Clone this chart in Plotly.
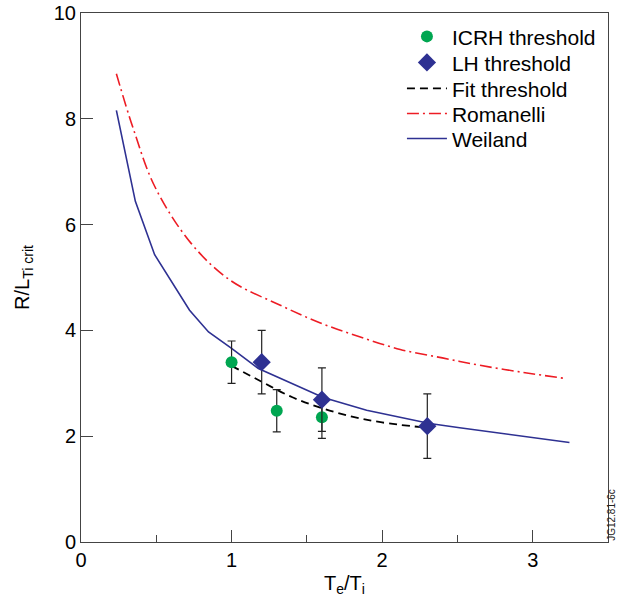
import plotly.graph_objects as go

# ---- data ----
icrh_x = [1.0, 1.3, 1.6]
icrh_y = [3.40, 2.48, 2.36]
icrh_err = [0.40, 0.40, 0.40]

lh_x = [1.2, 1.6, 2.3]
lh_y = [3.40, 2.69, 2.19]
lh_err = [0.60, 0.60, 0.61]

fit_x = [1.0, 1.2, 1.4, 1.6, 1.8, 2.0, 2.26]
fit_y = [3.33, 3.03, 2.74, 2.53, 2.37, 2.26, 2.17]

rom_x = [0.235, 0.35, 0.49, 0.73, 0.99, 1.32, 1.59, 1.85, 2.12, 2.40, 2.65, 2.95, 3.22]
rom_y = [8.85, 7.79, 6.72, 5.65, 4.95, 4.48, 4.14, 3.88, 3.64, 3.48, 3.34, 3.20, 3.09]

wei_x = [0.235, 0.361, 0.489, 0.721, 0.847, 1.0, 1.178, 1.476, 1.609, 1.897, 2.316, 2.515, 3.244]
wei_y = [8.16, 6.44, 5.43, 4.38, 3.97, 3.66, 3.28, 2.90, 2.73, 2.49, 2.24, 2.16, 1.88]

x_ticks = [0, 1, 2, 3]
y_ticks = [0, 2, 4, 6, 8, 10]

FONT = "Liberation Sans, Arial, Helvetica, sans-serif"
GREEN = "#00a651"
NAVY = "#2e3192"
RED = "#ed1c24"

fig = go.Figure()

fig.add_trace(go.Scatter(
    x=fit_x, y=fit_y, mode="lines", name="Fit threshold", line_shape="spline",
    line=dict(color="black", width=1.8, dash="8px,5px"), legend="legend3",
))
fig.add_trace(go.Scatter(
    x=rom_x, y=rom_y, mode="lines", name="Romanelli", line_shape="spline",
    line=dict(color=RED, width=1.6, dash="12px,4px,2px,4px"), legend="legend4",
))
fig.add_trace(go.Scatter(
    x=wei_x, y=wei_y, mode="lines", name="Weiland",
    line=dict(color=NAVY, width=1.6), legend="legend5",
))
fig.add_trace(go.Scatter(
    x=icrh_x, y=icrh_y, mode="markers", name="ICRH threshold",
    marker=dict(symbol="circle", size=12, color=GREEN),
    error_y=dict(type="data", array=icrh_err, visible=True, color="#222", thickness=1.2, width=4),
    legend="legend",
))
fig.add_trace(go.Scatter(
    x=lh_x, y=lh_y, mode="markers", name="LH threshold",
    marker=dict(symbol="diamond", size=14, color=NAVY),
    error_y=dict(type="data", array=lh_err, visible=True, color="#222", thickness=1.2, width=4),
    legend="legend2",
))

H = 597
top, bottom = 13.3, 541.7


def ypaper(py):
    return (bottom - py) / (bottom - top)


LEG_X = 0.609
leg_common = dict(
    x=LEG_X, xanchor="left", yanchor="middle",
    bgcolor="rgba(0,0,0,0)", borderwidth=0,
    font=dict(size=21, family=FONT), itemwidth=40,
)
legend_rows = [37, 63, 89, 114, 139]

fig.update_layout(
    width=620, height=H,
    margin=dict(l=80.5, r=11.5, t=top, b=H - bottom),
    paper_bgcolor="white", plot_bgcolor="white",
    font=dict(family=FONT, size=20, color="black"),
    showlegend=True,
    legend=dict(y=ypaper(legend_rows[0]), **leg_common),
    legend2=dict(y=ypaper(legend_rows[1]), **leg_common),
    legend3=dict(y=ypaper(legend_rows[2]), **leg_common),
    legend4=dict(y=ypaper(legend_rows[3]), **leg_common),
    legend5=dict(y=ypaper(legend_rows[4]), **leg_common),
)

fig.update_xaxes(
    range=[0, 3.5], tickvals=x_ticks, ticks="inside", ticklen=12, tickwidth=1,
    tickcolor="#444", showline=True, linecolor="#444", linewidth=1, mirror=True,
    showgrid=False, zeroline=False, automargin=False,
    minor=dict(dtick=0.5, tick0=0, ticks="inside", ticklen=7, tickcolor="#444", showgrid=False),
    title=dict(text="T<sub>e</sub>/T<sub>i</sub>", standoff=8, font=dict(size=20)),
)
fig.update_yaxes(
    range=[0, 10], tickvals=y_ticks, ticks="inside", ticklen=12, tickwidth=1,
    tickcolor="#444", showline=True, linecolor="#444", linewidth=1, mirror=True,
    showgrid=False, zeroline=False, automargin=False,
    title=dict(text="R/L<sub>Ti crit</sub>", standoff=18, font=dict(size=20)),
)

fig.add_annotation(
    text="JG12.81-6c", xref="paper", yref="paper", x=1.021, y=ypaper(515),
    showarrow=False, textangle=-90, font=dict(size=10, color="#222"),
    xanchor="right", yanchor="middle",
)

fig.write_html("out.html")
